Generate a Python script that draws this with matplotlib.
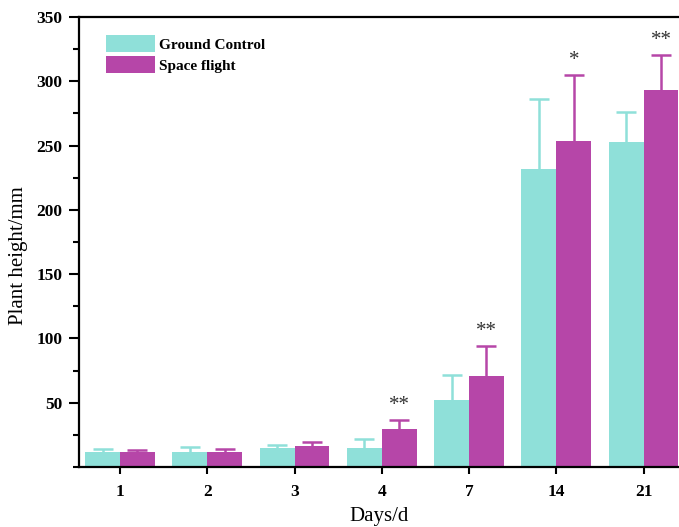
import matplotlib
matplotlib.use("Agg")
import matplotlib.pyplot as plt
import numpy as np
from matplotlib.ticker import MultipleLocator

plt.rcParams['font.family'] = ['Liberation Serif', 'DejaVu Serif']

days = ['1', '2', '3', '4', '7', '14', '21']
ground = [12, 12, 14.5, 14.5, 52, 231.5, 252.5]
ground_err = [2.2, 3.5, 2.5, 7, 19.5, 54.5, 23.5]
space = [12, 12, 16.6, 29.8, 71, 253.5, 293]
space_err = [1.2, 2, 3.1, 6.8, 23, 51.5, 27]
stars = ['', '', '', '**', '**', '*', '**']

teal = '#8fe0d9'
magenta = '#b646a8'

fig = plt.figure(figsize=(6.79, 5.27), dpi=100)
ax = fig.add_axes([0.1163, 0.1139, 0.96, 0.854])

x = np.arange(len(days))
w = 0.4

# only the upper half of each error bar is drawn
for pos, vals, errs, col, lab in [(x - w/2, ground, ground_err, teal, 'Ground Control'),
                                  (x + w/2, space, space_err, magenta, 'Space flight')]:
    tops = np.add(vals, errs)
    ax.vlines(pos, vals, tops, color=col, lw=1.8, zorder=1)
    ax.plot(pos, tops, ls='none', marker='_', markersize=14, mew=1.8, color=col, zorder=1)
    ax.bar(pos, vals, w, color=col, label=lab, zorder=2)

for i in range(len(x)):
    if stars[i]:
        ax.text(x[i] + w/2, space[i] + space_err[i] + 4, stars[i], ha='center', va='bottom',
                fontsize=15, color='#333333')

ax.set_xlim(-0.47, 7.0)
ax.set_ylim(0, 350)
ax.set_xticks(x)
ax.set_xticklabels(days, fontweight='bold', fontsize=12.5)
ax.set_yticks([50, 100, 150, 200, 250, 300, 350])
ax.set_yticklabels(['50', '100', '150', '200', '250', '300', '350'], fontweight='bold', fontsize=12.5)
ax.yaxis.set_minor_locator(MultipleLocator(25))
ax.tick_params(axis='y', which='major', direction='out', length=7, width=1.5, pad=5)
ax.tick_params(axis='y', which='minor', direction='out', length=4, width=1.5)
ax.tick_params(axis='x', direction='out', length=5, width=1.5, pad=7)
for s in ax.spines.values():
    s.set_linewidth(1.6)

ax.set_xlabel('Days/d', fontsize=15)
ax.xaxis.set_label_coords(0.46, -0.088)
ax.set_ylabel('Plant height/mm', fontsize=15)
ax.yaxis.set_label_coords(-0.078, 0.469)

ax.legend(loc='upper left', bbox_to_anchor=(0.02, 0.99), frameon=False,
          prop={'weight': 'bold', 'size': 11}, handlelength=3.2, handleheight=1.3, labelspacing=0.3,
          handletextpad=0.3)

fig.savefig('out.png', dpi=100)
